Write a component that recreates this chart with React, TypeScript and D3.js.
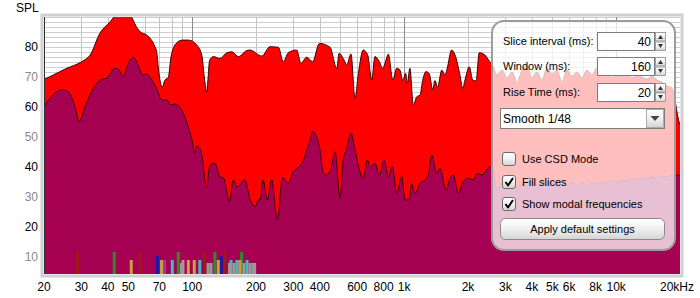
import React from 'react';
import * as d3 from 'd3';

// Earliest slice (red)
const redFreq = [20, 21.3, 25.6, 30.1, 33, 36.7, 41, 44, 47.7, 50.5, 52.6, 54.5, 56.8, 61, 64, 66.5, 68, 69.4, 72.3, 74.4, 77.1, 79.5, 84, 90, 96, 105, 111, 114, 117, 121, 126, 135, 146, 154, 165, 181, 187, 213, 233, 255, 269, 284, 311, 326, 347, 370, 398, 447, 481, 493, 520, 536, 561, 586, 608, 641, 673, 703, 728, 764, 792, 812, 842, 884, 922, 955, 984, 1016, 1035, 1064, 1104, 1146, 1188, 1222, 1268, 1314, 1364, 1396, 1438, 1504, 1558, 1596, 1674, 1738, 1832, 1888, 1936, 2028, 2104, 2182, 2260, 2404, 2520, 2624, 2740, 2890, 3056, 3228, 3406, 3598, 3796, 4010, 4228, 4468, 4720, 4978, 5260, 5546, 5862, 6194, 6532, 6902, 7278, 7692, 8110, 8570, 9058, 9550, 10094, 10642, 11246, 11886, 12532, 13244, 13964, 14758, 15596, 16444, 17380, 18324, 18924, 19590, 20000];
const redDb = [69.2, 70.1, 72.9, 75.1, 77.3, 84.6, 88.4, 91, 93, 91.5, 89, 86.8, 85.1, 84, 82.5, 80.3, 78.4, 72.3, 66.6, 69, 69.8, 76.8, 81.2, 82.3, 82.3, 80.7, 77.3, 70.1, 65.1, 75.7, 76.8, 76.2, 78.1, 78.4, 76.8, 78.8, 79, 77, 80.1, 79.9, 75.1, 78.1, 79, 74.6, 76.6, 75.1, 81.2, 79.9, 72.9, 77.9, 75.7, 74, 77.7, 62.9, 71.2, 79, 77.3, 69, 76.8, 75.1, 72.9, 74.6, 77.6, 69, 72.9, 72.3, 68.8, 71.2, 67.9, 72.9, 60.7, 63.4, 64, 68.8, 71.8, 71, 65.7, 68.8, 66.6, 72.3, 70.7, 72.9, 79, 77.3, 70.7, 66.2, 69, 73.4, 69, 68.7, 78.1, 77.3, 75.3, 73.7, 70.7, 72.3, 69.7, 71.7, 68.3, 72.3, 73.7, 69.7, 71.7, 69, 73, 71, 72.3, 68.3, 72.3, 70.3, 71.7, 69.7, 72.3, 70.7, 73, 71, 71.7, 69.7, 71.7, 70.3, 71, 69.7, 70.7, 70, 69.3, 70.3, 69, 68.3, 67, 66.3, 62.3, 56.3, 54];

// Last slice (purple)
const purpleFreq = [20, 21.3, 24.2, 26, 28, 29.3, 31.2, 34.2, 37.4, 39.5, 43.3, 44.8, 47.3, 50, 52.8, 55.1, 58.4, 61, 64.4, 68, 71.8, 75.8, 79.4, 83, 89.2, 96, 100.5, 102.5, 105, 107, 111, 117, 121, 128, 135, 141, 150, 156, 162, 168, 177, 187, 198, 205, 209, 216, 226, 237, 252, 267, 284, 300, 320, 334, 347, 361, 370, 386, 401, 410, 423, 447, 472, 498, 516, 536, 561, 586, 612, 641, 670, 695, 728, 764, 804, 842, 880, 922, 974, 1009, 1057, 1084, 1125, 1188, 1254, 1300, 1349, 1424, 1476, 1576, 1644, 1706, 1800, 1900, 2006, 2120, 2214, 2320, 2450, 2540, 2624, 2740, 2890, 3056, 3228, 3406, 3598, 3796, 4010, 4228, 4468, 4720, 4978, 5260, 5546, 5862, 6194, 6532, 6902, 7278, 7692, 8110, 8570, 9058, 9550, 10094, 10642, 11246, 11886, 12532, 13244, 13964, 14758, 15596, 16444, 17380, 18324, 19590, 20000];
const purpleDb = [60.1, 62.9, 65.7, 65.1, 60.1, 55.1, 60.1, 66.2, 69.2, 69.6, 72.9, 72.6, 70.3, 74.6, 76.6, 74.6, 70.7, 71, 69, 66.2, 62.3, 62.3, 60.7, 61, 59, 53.2, 47.9, 44.6, 47, 46.8, 44, 33, 40.5, 41.2, 36.8, 36.2, 28.4, 35.7, 33.4, 34, 35.8, 29.5, 26.8, 29, 29, 35.7, 29, 35.9, 22.3, 36.5, 34.5, 38.5, 40.1, 42, 45.5, 49, 51.8, 50.1, 45.5, 40, 37.3, 38.4, 45.1, 29.6, 42.3, 46.2, 51.2, 45.7, 39.6, 36.2, 42.3, 40.1, 41.2, 37.3, 42.3, 36.8, 40.1, 31.2, 36.8, 29, 29, 34.6, 31.2, 34.6, 35.7, 37.3, 44, 37.9, 39.6, 32.3, 36.2, 37.3, 31.2, 35.1, 36.2, 35.7, 37.9, 37.3, 39, 40.1, 39, 32.3, 34.7, 33.7, 35.3, 33, 34.3, 33.3, 35, 34, 35.7, 33.7, 35, 34.3, 35.7, 33.7, 34.7, 34, 35, 33.7, 34.7, 34.3, 35.3, 34.7, 35.7, 35, 35.7, 35.3, 36.3, 35.7, 36.3, 36, 36.7, 36.3, 37, 36.7, 37.3, 37.3, 37];

// Modal frequencies
const modalFreq = [28.8, 42.9, 51.6, 56.9, 68.6, 71.7, 74.1, 80.6, 86, 89, 90.5, 95.9, 102.3, 108.6, 114, 118.8, 122.7, 128, 132.8, 137.2, 142.4, 150, 152.5, 157.5, 162.6, 168, 171.2, 175.5, 181.5, 187.5, 193.6, 197];
const modalLevel = [11.7, 11.7, 9, 11.7, 10.3, 9, 9, 9, 11.7, 8, 9, 9, 9, 9, 11.7, 8, 8, 11.7, 9, 10.3, 11.7, 8, 9, 8, 9, 9, 11.7, 8, 9, 8, 8, 8];
const modalKind = ['a', 'g', 'o', 'a', 'b', 'o', 'm', 'c', 'g', 's', 'p', 'o', 'o', 'c', 'a', 's', 's', 'g', 'o', 'b', 'a', 's', 'c', 's', 'c', 'o', 'g', 's', 'c', 's', 's', 's'];
const modalColors: Record<string, string> = { a: '#a01818', g: '#2e8a2e', o: '#c8a040', b: '#1a1aa8', m: '#b03098', c: '#48b4cc', p: '#d080b0', s: '#9a9a9a' };

const yTicks = [10, 20, 30, 40, 50, 60, 70, 80];
const xTickFreq = [20, 30, 40, 50, 70, 100, 200, 300, 400, 600, 800, 1000, 2000, 3000, 4000, 5000, 6000, 8000, 10000, 20000];
const xTickLabels = ['20', '30', '40', '50', '70', '100', '200', '300', '400', '600', '800', '1k', '2k', '3k', '4k', '5k', '6k', '8k', '10k', '20kHz'];
const gridFreq = [20, 30, 40, 50, 60, 70, 80, 90, 100, 200, 300, 400, 500, 600, 700, 800, 900, 1000, 2000, 3000, 4000, 5000, 6000, 7000, 8000, 9000, 10000, 20000];

const FONT = '"Liberation Sans", Arial, sans-serif';

function Spinner({ x, y, h }: { x: number; y: number; h: number }) {
  const half = h / 2;
  return (
    <g>
      <rect x={x} y={y} width={10} height={half - 0.5} fill="url(#btnGrad)" stroke="#8a8a8a" strokeWidth={0.8} />
      <rect x={x} y={y + half + 0.5} width={10} height={half - 0.5} fill="url(#btnGrad)" stroke="#8a8a8a" strokeWidth={0.8} />
      <path d={`M${x + 2.5},${y + half - 2.5} L${x + 7.5},${y + half - 2.5} L${x + 5},${y + 2.5} Z`} fill="#333" />
      <path d={`M${x + 2.5},${y + half + 2.5} L${x + 7.5},${y + half + 2.5} L${x + 5},${y + h - 2.5} Z`} fill="#333" />
    </g>
  );
}

function Checkbox({ x, y, checked }: { x: number; y: number; checked: boolean }) {
  return (
    <g>
      <rect x={x} y={y} width={13} height={13} rx={2.5} fill="url(#btnGrad)" stroke="#6a6a6a" strokeWidth={1} />
      {checked && (
        <path d={`M${x + 3},${y + 6.5} L${x + 5.5},${y + 10} L${x + 10.5},${y + 2.5}`} fill="none" stroke="#000" strokeWidth={2} strokeLinejoin="round" />
      )}
    </g>
  );
}

export default function App() {
  const W = 700;
  const H = 298;
  const left = 44, right = 680, top = 17, bottom = 274;
  const x = d3.scaleLog().domain([20, 20000]).range([left, right]);
  const y = d3.scaleLinear().domain([90 - (bottom - top) / 3, 90]).range([bottom, top]);

  const red = redFreq.map((f, i) => ({ f, v: redDb[i] }));
  const purple = purpleFreq.map((f, i) => ({ f, v: purpleDb[i] }));

  const area = d3.area<{ f: number; v: number }>()
    .x(d => x(d.f)).y0(bottom).y1(d => y(d.v)).curve(d3.curveMonotoneX);
  const line = d3.line<{ f: number; v: number }>()
    .x(d => x(d.f)).y(d => y(d.v)).curve(d3.curveMonotoneX);

  const hGrid = d3.range(90, y.domain()[0], -10 / 6);

  const panelX = 492, panelY = 21, panelW = 183, panelH = 229;
  const rows = [
    { label: 'Slice interval (ms):', value: '40', by: 32 },
    { label: 'Window (ms):', value: '160', by: 57 },
    { label: 'Rise Time (ms):', value: '20', by: 83 },
  ];
  const checks = [
    { label: 'Use CSD Mode', checked: false, cy: 153 },
    { label: 'Fill slices', checked: true, cy: 176 },
    { label: 'Show modal frequencies', checked: true, cy: 198 },
  ];

  return (
    <svg width={W} height={H} style={{ position: 'fixed', left: 0, top: 0, display: 'block', background: '#fff' }} fontFamily={FONT}>
      <defs>
        <clipPath id="plotClip">
          <rect x={left} y={top} width={right - left} height={bottom - top} />
        </clipPath>
        <linearGradient id="btnGrad" x1="0" y1="0" x2="0" y2="1">
          <stop offset="0" stopColor="#ffffff" />
          <stop offset="0.5" stopColor="#f0f0f0" />
          <stop offset="1" stopColor="#d4d4d4" />
        </linearGradient>
      </defs>

      {/* plot frame */}
      <rect x={left - 2} y={top - 2} width={right - left + 4} height={bottom - top + 4} fill="none" stroke="#d0d0d0" strokeWidth={3} />
      <rect x={left} y={top} width={right - left} height={bottom - top} fill="#fff" />

      {/* grid */}
      <g clipPath="url(#plotClip)">
        {hGrid.map((v, i) => (
          <line key={'h' + i} x1={left} x2={right} y1={Math.round(y(v)) + 0.5} y2={Math.round(y(v)) + 0.5} stroke="#cfcfcf" strokeWidth={1} />
        ))}
        {gridFreq.map(f => (
          <line key={'v' + f} x1={Math.round(x(f)) + 0.5} x2={Math.round(x(f)) + 0.5} y1={top} y2={bottom}
            stroke={f === 100 || f === 1000 || f === 10000 ? '#8c8c8c' : '#c4c4c4'} strokeWidth={1} />
        ))}

        <path d={area(red) || ''} fill="#ff0000" />
        <path d={line(red) || ''} fill="none" stroke="#3a0000" strokeWidth={1} />
        <path d={area(purple) || ''} fill="#a60052" />
        <path d={line(purple) || ''} fill="none" stroke="#3a0010" strokeWidth={1} />

        {modalFreq.map((f, i) => ({ f, lv: modalLevel[i], k: modalKind[i] }))
          .sort((a, b) => b.lv - a.lv)
          .map((d, i) => (
            <rect key={'m' + i} x={x(d.f) - 1.5} y={y(d.lv)} width={3} height={bottom - y(d.lv)} fill={modalColors[d.k]} />
          ))}
      </g>
      <line x1={left + 0.5} x2={left + 0.5} y1={top} y2={bottom} stroke="#303030" strokeWidth={1} />

      {/* axes labels */}
      <text x={16} y={12} fontSize={12} fill="#000">SPL</text>
      {yTicks.map(t => (
        <text key={'yt' + t} x={38} y={y(t) + 4} fontSize={12} textAnchor="end" fill={t % 20 === 0 ? '#000' : '#8a8a8a'}>{t}</text>
      ))}
      {xTickFreq.map((f, i) => (
        <text key={'xt' + f} x={f === 20000 ? x(f) - 3 : x(f)} y={291} fontSize={12} textAnchor="middle" fill="#000">{xTickLabels[i]}</text>
      ))}

      {/* control panel */}
      <rect x={panelX} y={panelY} width={panelW} height={panelH} rx={12} fill="#ffffff" fillOpacity={0.75} stroke="#9c9c9c" strokeWidth={2} />
      {rows.map(r => (
        <g key={r.label}>
          <text x={503} y={r.by + 13} fontSize={11} fill="#000">{r.label}</text>
          <rect x={597.5} y={r.by + 0.5} width={57} height={18} fill="#fff" stroke="#7c7c7c" strokeWidth={1} />
          <text x={651} y={r.by + 13.5} fontSize={12} textAnchor="end" fill="#000">{r.value}</text>
          <Spinner x={655.5} y={r.by + 0.5} h={18} />
        </g>
      ))}
      <rect x={500.5} y={108.5} width={164} height={20} fill="#fff" stroke="#7c7c7c" strokeWidth={1} />
      <text x={503} y={122.5} fontSize={12} fill="#000">Smooth 1/48</text>
      <rect x={646.5} y={109.5} width={17} height={18} fill="url(#btnGrad)" stroke="#9a9a9a" strokeWidth={0.8} />
      <path d="M650.5,116 L659.5,116 L655,121 Z" fill="#444" />

      {checks.map(c => (
        <g key={c.label}>
          <Checkbox x={502.5} y={c.cy - 0.5} checked={c.checked} />
          <text x={522} y={c.cy + 10} fontSize={11} fill="#000">{c.label}</text>
        </g>
      ))}

      <rect x={500.5} y={218.5} width={164} height={21} rx={5} fill="url(#btnGrad)" stroke="#8a8a8a" strokeWidth={1} />
      <text x={582.5} y={233} fontSize={11} textAnchor="middle" fill="#000">Apply default settings</text>
    </svg>
  );
}
